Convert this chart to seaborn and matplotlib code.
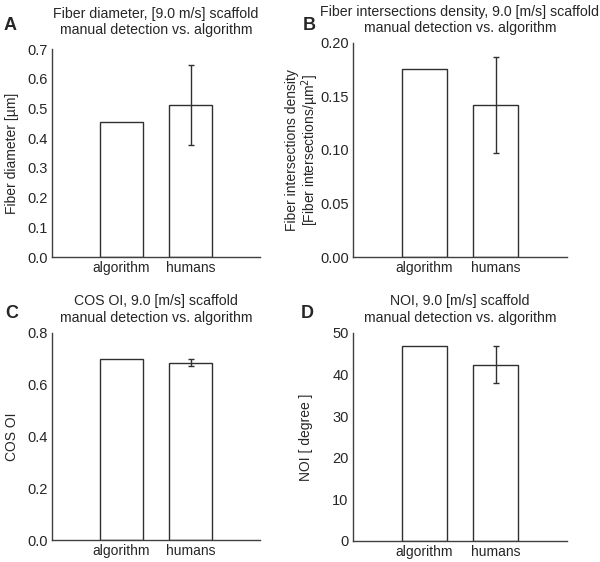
import matplotlib
matplotlib.use("Agg")
import matplotlib.pyplot as plt
import seaborn as sns
import pandas as pd

sns.set_style("white")
plt.rcParams['font.family'] = ['Liberation Sans', 'DejaVu Sans']

groups = ["algorithm", "humans"]

# panel values: algorithm, humans (mean) and humans error
diameter = [0.455, 0.512]
diameter_err = 0.135
density = [0.176, 0.142]
density_err = 0.045
cos_oi = [0.700, 0.685]
cos_oi_err = 0.015
noi = [46.7, 42.3]
noi_err = 4.4

panels = [
    dict(letter="A", vals=diameter, err=diameter_err,
         title="Fiber diameter, [9.0 m/s] scaffold\nmanual detection vs. algorithm",
         ylabel="Fiber diameter [µm]", ylim=(0, 0.7), ticks=[0, 0.1, 0.2, 0.3, 0.4, 0.5, 0.6, 0.7],
         fmt="{:.1f}", pos=[0.0867, 0.5427, 0.3466, 0.370], tpad=11, lpad=6,
         lxy=(10, 26)),
    dict(letter="B", vals=density, err=density_err,
         title="Fiber intersections density, 9.0 [m/s] scaffold\nmanual detection vs. algorithm",
         ylabel="Fiber intersections density\n[Fiber intersections/µm$^2$]", ylim=(0, 0.2),
         ticks=[0, 0.05, 0.10, 0.15, 0.20], fmt="{:.2f}", pos=[0.588, 0.5427, 0.357, 0.381],
         tpad=8, lpad=-1, lxy=(309, 25)),
    dict(letter="C", vals=cos_oi, err=cos_oi_err,
         title="COS OI, 9.0 [m/s] scaffold\nmanual detection vs. algorithm",
         ylabel="COS OI", ylim=(0, 0.8), ticks=[0, 0.2, 0.4, 0.6, 0.8],
         fmt="{:.1f}", pos=[0.0867, 0.0386, 0.3466, 0.3694], tpad=8, lpad=6,
         lxy=(12, 314)),
    dict(letter="D", vals=noi, err=noi_err,
         title="NOI, 9.0 [m/s] scaffold\nmanual detection vs. algorithm",
         ylabel="NOI [ degree ]", ylim=(0, 50), ticks=[0, 10, 20, 30, 40, 50],
         fmt="{:.0f}", pos=[0.588, 0.0374, 0.357, 0.3706], tpad=8, lpad=14,
         lxy=(307, 313)),
]

fig = plt.figure(figsize=(6, 5.62), dpi=100)

for p in panels:
    ax = fig.add_axes(p["pos"])
    df = pd.DataFrame({"group": groups, "value": p["vals"]})
    sns.barplot(data=df, x="group", y="value", ax=ax, color="white",
                edgecolor="#303030", linewidth=1.0, width=0.63, errorbar=None)
    ax.errorbar(1, p["vals"][1], yerr=p["err"], fmt="none", ecolor="#303030",
                elinewidth=1.0, capsize=2.5, capthick=1.0)
    ax.set_xlim(-1, 2)
    ax.set_ylim(*p["ylim"])
    ax.set_yticks(p["ticks"])
    ax.set_yticklabels([p["fmt"].format(t) for t in p["ticks"]], fontsize=10.5)
    ax.tick_params(axis="both", length=0, pad=3)
    ax.tick_params(axis="x", labelsize=10)
    ax.set_xlabel("")
    ax.set_ylabel(p["ylabel"], fontsize=10, labelpad=p["lpad"], linespacing=1.05)
    ax.set_title(p["title"], fontsize=10.2, pad=p["tpad"], linespacing=1.2)
    sns.despine(ax=ax)
    for s in ["left", "bottom"]:
        ax.spines[s].set_color("#404040")
        ax.spines[s].set_linewidth(1.0)
    lx, ly = p["lxy"]
    fig.text(lx / 600, 1 - ly / 562, p["letter"], fontsize=13, fontweight="bold",
             ha="center", va="center")

fig.savefig("out.png", dpi=100)
